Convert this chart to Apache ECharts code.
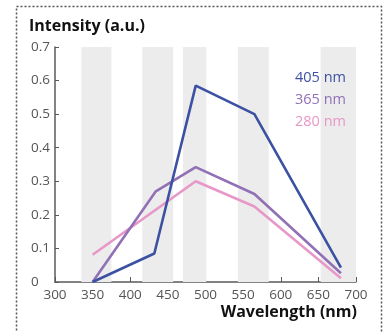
<!DOCTYPE html>
<html>
<head>
<meta charset="utf-8">
<script src="https://cdn.jsdelivr.net/npm/echarts@6/dist/echarts.min.js"></script>
<style>
  html, body { margin: 0; padding: 0; background: #fff; }
  #chart { width: 387px; height: 332px; }
</style>
</head>
<body>
<div id="chart"></div>
<script>
// excitation wavelengths (legend order)
const seriesNames = ['405 nm', '365 nm', '280 nm'];
const seriesColors = ['#3d51a3', '#9170b6', '#e798c8'];

// [wavelength nm, intensity a.u.]
const data405 = [[350, 0], [432, 0.085], [487, 0.585], [565, 0.5], [680, 0.043]];
const data365 = [[350, 0], [434, 0.27], [487, 0.342], [565, 0.262], [680, 0.026]];
const data280 = [[350, 0.081], [487, 0.30], [565, 0.225], [680, 0.011]];

// shaded wavelength bands
const bands = [[335, 375], [416, 457], [470, 501], [543, 584], [653, 700]];

const xTicks = { min: 300, max: 700, interval: 50 };
const yTicks = { min: 0, max: 0.7, interval: 0.1 };

const tickFont = { fontFamily: 'Open Sans', fontSize: 13.5, color: '#555' };
const boldFont = { fontFamily: 'Open Sans', fontWeight: 'bold', fontSize: 16, color: '#111' };
const axisGray = '#5a5a5a';

const chart = echarts.init(document.getElementById('chart'));

const lines = [data405, data365, data280].map((d, i) => ({
  name: seriesNames[i],
  type: 'line',
  data: d,
  symbol: 'none',
  z: 10 - i,
  lineStyle: { color: seriesColors[i], width: 2.6 },
  itemStyle: { color: seriesColors[i] }
}));

// bands go on the bottom-most series
lines[2].markArea = {
  silent: true,
  itemStyle: { color: '#ececec' },
  data: bands.map(b => [{ xAxis: b[0] }, { xAxis: b[1] }])
};

chart.setOption({
  animation: false,
  title: [{
    text: 'Intensity (a.u.)',
    left: 24,
    top: 13,
    textStyle: boldFont
  }],
  legend: {
    orient: 'vertical',
    left: 285,
    top: 65,
    icon: 'none',
    itemWidth: 0,
    itemHeight: 14,
    itemGap: 7,
    data: seriesNames.map((n, i) => ({
      name: n,
      textStyle: { color: seriesColors[i], fontFamily: 'Open Sans', fontSize: 14.5 }
    }))
  },
  graphic: [{
    type: 'rect',
    left: 14, top: 4,
    shape: { width: 365, height: 345 },
    style: { fill: 'none', stroke: '#555', lineWidth: 1.5, lineDash: [2, 2] },
    silent: true
  }],
  grid: { left: 55, right: 31, top: 47, bottom: 50 },
  xAxis: {
    type: 'value',
    min: xTicks.min, max: xTicks.max, interval: xTicks.interval,
    name: 'Wavelength (nm)',
    nameLocation: 'end',
    nameGap: 1,
    nameTextStyle: Object.assign({
      align: 'right', verticalAlign: 'top', padding: [22, 0, 0, 0]
    }, boldFont),
    axisLine: { lineStyle: { color: axisGray, width: 1.5 } },
    axisTick: { inside: true, length: 5, lineStyle: { color: axisGray } },
    axisLabel: Object.assign({ margin: 6 }, tickFont),
    splitLine: { show: false }
  },
  yAxis: {
    type: 'value',
    min: yTicks.min, max: yTicks.max, interval: yTicks.interval,
    axisLine: { show: true, lineStyle: { color: axisGray, width: 1.5 } },
    axisTick: { show: true, inside: true, length: 4, lineStyle: { color: axisGray } },
    axisLabel: Object.assign({
      margin: 24, align: 'left',
      formatter: v => v === 0 ? '0' : v.toFixed(1)
    }, tickFont),
    splitLine: { show: false }
  },
  series: lines
});
</script>
</body>
</html>
